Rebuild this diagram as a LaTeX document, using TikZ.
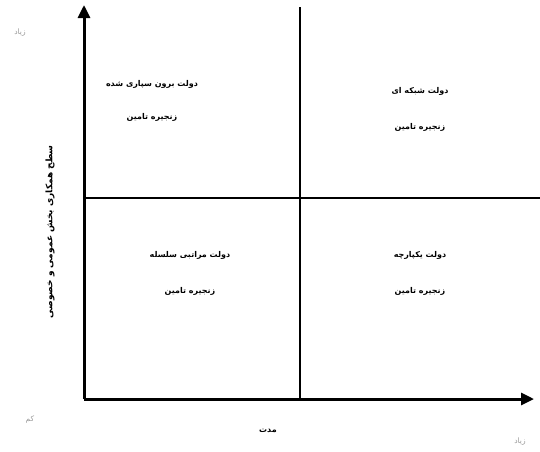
\documentclass[tikz,border=0pt]{standalone}
\usepackage{fontspec}
\TeXXeTstate=1
\newfontfamily\arabicfont[Script=Arabic]{DejaVu Sans}
\usetikzlibrary{arrows.meta}
\begin{document}
\begin{tikzpicture}[x=1pt,y=-1pt,
  lbl/.style={font=\arabicfont\bfseries\fontsize{8}{9}\selectfont, inner sep=1pt},
  corner/.style={font=\arabicfont\fontsize{7.5}{8}\selectfont, text=gray!80, inner sep=1pt},
  axis/.style={line width=3pt, -{Triangle[length=13pt,width=12pt]}},
  mid/.style={line width=2pt}]
\useasboundingbox (0,0) rectangle (540,451);
\coordinate (O) at (84,399);
\coordinate (Ytop) at (84,5);
\coordinate (Xend) at (534,399);
\coordinate (Vtop) at (300,7);
\coordinate (Vbot) at (300,399);
\coordinate (Hl) at (84,198);
\coordinate (Hr) at (540,198);
\draw[mid] (Vtop) -- (Vbot);
\draw[mid] (Hl) -- (Hr);
\draw[axis] (O) -- (Ytop);
\draw[axis] (O) -- (Xend);
\node[lbl] (tl1) at (152,84) {\beginR دولت برون سپاری شده\endR};
\node[lbl] (tl2) at (152,117) {\beginR زنجیره تامین\endR};
\node[lbl] (tr1) at (420,91) {\beginR دولت شبکه ای\endR};
\node[lbl] (tr2) at (420,127) {\beginR زنجیره تامین\endR};
\node[lbl] (bl1) at (190,255) {\beginR دولت مراتبی سلسله\endR};
\node[lbl] (bl2) at (190,291) {\beginR زنجیره تامین\endR};
\node[lbl] (br1) at (420,255) {\beginR دولت یکپارچه\endR};
\node[lbl] (br2) at (420,291) {\beginR زنجیره تامین\endR};
\node[lbl, rotate=90, font=\arabicfont\bfseries\fontsize{9}{10}\selectfont] (ylab) at (50,232) {\beginR سطح همکاری بخش عمومی و خصوصی\endR};
\node[lbl] (xlab) at (268,431) {\beginR مدت\endR};
\node[corner] (c1) at (20,33) {\beginR زیاد\endR};
\node[corner] (c2) at (30,420) {\beginR کم\endR};
\node[corner] (c3) at (520,442) {\beginR زیاد\endR};
\end{tikzpicture}
\end{document}
